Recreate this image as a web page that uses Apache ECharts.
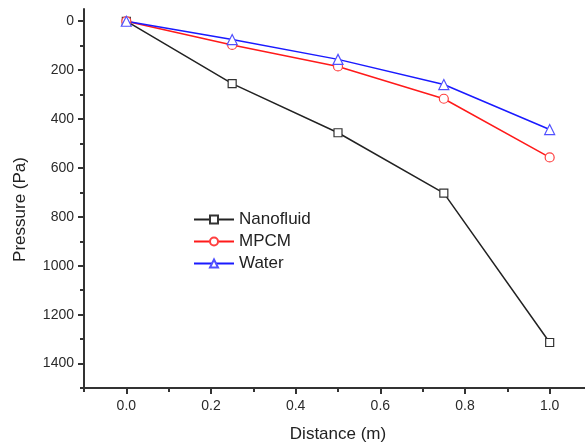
<!DOCTYPE html>
<html>
<head>
<meta charset="utf-8">
<script src="https://cdn.jsdelivr.net/npm/echarts@6/dist/echarts.min.js"></script>
<style>
  html, body { margin: 0; padding: 0; background: #fff; }
  #chart { width: 585px; height: 444px; }
</style>
</head>
<body>
<div id="chart"></div>
<script>
// Pressure drop along the channel for three working fluids
const distance = [0, 0.25, 0.5, 0.75, 1.0];
const nanofluid = [0, 255, 456, 703, 1314];
const mpcm = [0, 97, 185, 317, 557];
const water = [0, 75, 156, 259, 443];

const yLabels = [0, 200, 400, 600, 800, 1000, 1200, 1400];
const yMinor = [100, 300, 500, 700, 900, 1100, 1300, 1500];
const xLabels = [0, 0.2, 0.4, 0.6, 0.8, 1.0];
const xMinor = [-0.1, 0.1, 0.3, 0.5, 0.7, 0.9, 1.1];

const axisColor = '#333';
const font = 'Liberation Sans, Arial, sans-serif';

function pairs(ys) { return distance.map((d, i) => [d, ys[i]]); }

const chart = echarts.init(document.getElementById('chart'));
chart.setOption({
  animation: false,
  grid: { left: 84, top: 9, width: 508, height: 379, containLabel: false, outerBoundsMode: 'none' },
  legend: {
    left: 193, top: 211, orient: 'vertical', padding: 0,
    itemWidth: 40, itemHeight: 10, itemGap: 5,
    textStyle: { fontFamily: font, fontSize: 17, color: '#222' },
    data: ['Nanofluid', 'MPCM', 'Water']
  },
  xAxis: [{
    type: 'value', min: -0.1, max: 1.1,
    name: 'Distance (m)', nameLocation: 'middle', nameGap: 38,
    nameTextStyle: { fontFamily: font, fontSize: 17, color: '#222' },
    axisLine: { show: true, onZero: false, lineStyle: { color: axisColor, width: 2 } },
    axisTick: { show: true, customValues: xLabels, length: 6, lineStyle: { color: axisColor, width: 2 } },
    axisLabel: { customValues: xLabels, formatter: v => v.toFixed(1), fontFamily: font, fontSize: 14, color: '#2a2a2a', margin: 11 },
    splitLine: { show: false }
  }, {
    type: 'value', min: -0.1, max: 1.1, position: 'bottom',
    axisLine: { show: false, onZero: false },
    axisTick: { show: true, customValues: xMinor, length: 4, lineStyle: { color: axisColor, width: 2 } },
    axisLabel: { show: false },
    splitLine: { show: false }
  }],
  yAxis: [{
    type: 'value', min: -50, max: 1500, inverse: true,
    name: 'Pressure (Pa)', nameLocation: 'middle', nameGap: 55,
    nameTextStyle: { fontFamily: font, fontSize: 17, color: '#222', padding: [0, 22, 0, 0] },
    axisLine: { show: true, onZero: false, lineStyle: { color: axisColor, width: 2 } },
    axisTick: { show: true, customValues: yLabels, length: 6, lineStyle: { color: axisColor, width: 2 } },
    axisLabel: { customValues: yLabels, formatter: v => String(v), fontFamily: font, fontSize: 14, color: '#2a2a2a', margin: 10 },
    splitLine: { show: false }
  }, {
    type: 'value', min: -50, max: 1500, inverse: true, position: 'left',
    axisLine: { show: false, onZero: false },
    axisTick: { show: true, customValues: yMinor, length: 4, lineStyle: { color: axisColor, width: 2 } },
    axisLabel: { show: false },
    splitLine: { show: false }
  }],
  series: [{
    name: 'Nanofluid', type: 'line', data: pairs(nanofluid),
    symbol: 'rect', symbolSize: 8,
    lineStyle: { color: '#222', width: 1.5 },
    itemStyle: { color: '#fff', borderColor: '#333', borderWidth: 1.2 }
  }, {
    name: 'MPCM', type: 'line', data: pairs(mpcm),
    symbol: 'circle', symbolSize: 9,
    lineStyle: { color: '#ff1a1a', width: 1.5 },
    itemStyle: { color: '#fff', borderColor: '#ff4040', borderWidth: 1.2 }
  }, {
    name: 'Water', type: 'line', data: pairs(water),
    symbol: 'triangle', symbolSize: 10,
    lineStyle: { color: '#1a1aff', width: 1.5 },
    itemStyle: { color: '#fff', borderColor: '#5050ff', borderWidth: 1.2 }
  }]
});
</script>
</body>
</html>
